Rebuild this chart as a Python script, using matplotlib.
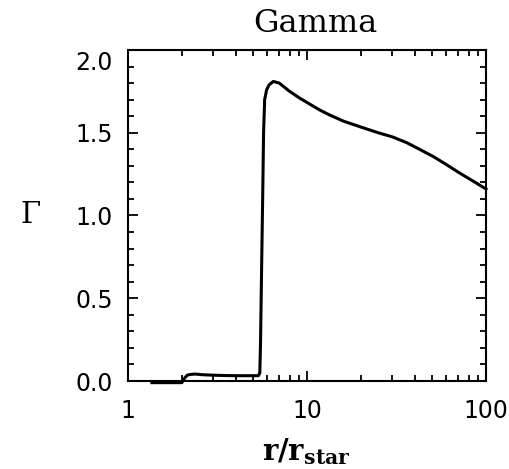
import matplotlib
matplotlib.use("Agg")
import matplotlib.pyplot as plt
import matplotlib.transforms as mtransforms
from matplotlib.ticker import FixedLocator, NullFormatter, LogLocator

# Data
r_vals = [1.36, 1.6, 1.8, 2.0, 2.08, 2.15, 2.25, 2.37, 2.6, 3.0, 3.5, 4.0, 4.5,
          5.0, 5.35, 5.45, 5.5, 5.58, 5.66, 5.72, 5.8, 5.95, 6.15, 6.48, 7.0,
          8.0, 9.14, 11.8, 13.4, 16.0, 19.8, 25.0, 30.0, 36.1, 42.0, 50.8,
          60.0, 71.6, 85.0, 100.0]
gamma_vals = [-0.01, -0.01, -0.01, -0.01, 0.02, 0.036, 0.04, 0.042, 0.038, 0.035,
              0.033, 0.032, 0.032, 0.032, 0.032, 0.05, 0.23, 0.70, 1.14, 1.50,
              1.70, 1.76, 1.79, 1.81, 1.80, 1.75, 1.708, 1.637, 1.607, 1.57,
              1.536, 1.50, 1.475, 1.44, 1.403, 1.356, 1.308, 1.255, 1.207, 1.16]

x_ticks = [1, 10, 100]
x_ticklabels = ["1", "10", "100"]
y_ticks = [0.0, 0.5, 1.0, 1.5, 2.0]
y_ticklabels = ["0.0", "0.5", "1.0", "1.5", "2.0"]
title_text = "Gamma"
ylabel_text = "Γ"
xlabel_text = r"$\mathbf{r/r_{star}}$"

W, H = 510, 469
fig = plt.figure(figsize=(W / 100, H / 100), dpi=100)
ax = fig.add_axes([128 / W, 1 - 381 / H, (486 - 128) / W, (381 - 50) / H])

ax.plot(r_vals, gamma_vals, color="black", lw=2.2, solid_joinstyle="round",
        clip_on=False)

ax.set_xscale("log")
ax.set_xlim(1, 100)
ax.set_ylim(0, 2.0)

ax.xaxis.set_major_locator(FixedLocator(x_ticks))
ax.set_xticklabels(x_ticklabels)
ax.xaxis.set_minor_locator(LogLocator(base=10, subs=range(2, 10)))
ax.xaxis.set_minor_formatter(NullFormatter())
ax.yaxis.set_major_locator(FixedLocator(y_ticks))
ax.set_yticklabels(y_ticklabels)
ax.yaxis.set_minor_locator(FixedLocator([i / 10 for i in range(0, 21)]))

for s in ax.spines.values():
    s.set_linewidth(1.5)

ax.tick_params(which="both", direction="in", top=True, right=True, width=1.3,
               colors="black")
ax.tick_params(which="major", length=7)
ax.tick_params(which="minor", length=4)
ax.tick_params(axis="y", which="major", pad=11, labelsize=17)
ax.tick_params(axis="x", which="major", pad=13, labelsize=17)

for lab in ax.get_xticklabels() + ax.get_yticklabels():
    lab.set_fontfamily("DejaVu Sans")

# top y-label sits slightly below its tick in the reference
ytl = ax.yaxis.get_major_ticks()
top_tick = ytl[-1]
off = mtransforms.ScaledTranslation(0, -10 / 100, fig.dpi_scale_trans)
top_tick.label1.set_transform(top_tick.label1.get_transform() + off)

plt.rcParams["mathtext.fontset"] = "dejavuserif"
fig.text(315 / W, 1 - 24 / H, title_text, ha="center", va="center",
         fontsize=23, family="DejaVu Serif")
fig.text(306 / W, 1 - 452 / H, xlabel_text, ha="center", va="center",
         fontsize=21)
fig.text(31 / W, 1 - 215 / H, ylabel_text, ha="center", va="center",
         fontsize=21, family="DejaVu Serif", rotation=0)

fig.savefig("out.png", dpi=100)
